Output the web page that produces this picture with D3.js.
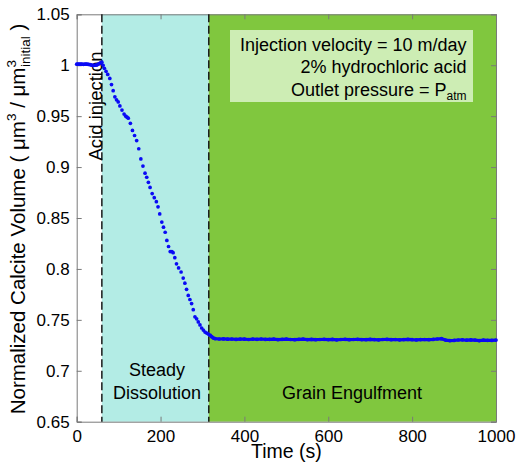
<!DOCTYPE html>
<html><head><meta charset="utf-8">
<script src="https://cdn.jsdelivr.net/npm/d3@7"></script>
<style>
html,body{margin:0;padding:0;background:#fff;}
text{font-family:"Liberation Sans",Arial,sans-serif;fill:#000;}
</style></head>
<body><svg id="chart" width="517" height="464"></svg>
<script>
// ---------- data ----------
const xTicks = [0, 200, 400, 600, 800, 1000];
const yTicks = [0.65, 0.7, 0.75, 0.8, 0.85, 0.9, 0.95, 1, 1.05];
const yTickLabels = ["0.65", "0.7", "0.75", "0.8", "0.85", "0.9", "0.95", "1", "1.05"];
const injectionTime = 60;
const engulfTime = 315;
const regionNames = ["Steady", "Dissolution", "Grain Engulfment", "Acid injection"];
const noteLines = ["Injection velocity = 10 m/day", "2% hydrochloric acid", "Outlet pressure = P"];

const preTime = [0, 4, 8, 12, 16, 20, 24, 28, 32, 36, 40, 44, 48, 52, 56, 60];
const preVol  = [1.0010, 1.0012, 1.0010, 1.0011, 1.0009, 1.0011, 1.0010, 1.0008, 1.0006, 1.0001, 0.9998, 1.0000, 1.0003, 1.0012, 1.0022, 1.0030];

const dissTime = [63, 66, 70, 74, 79, 83, 87, 91, 95, 99, 103, 108, 113, 117, 120, 123, 128, 133, 138, 143, 148, 153, 158, 163, 167, 171, 175, 180, 185, 190, 194, 198, 203, 207, 211, 215, 219, 223, 227, 230, 234, 238, 243, 249, 254, 258, 262, 266, 270, 274, 278, 282, 286, 290, 294, 298, 302, 306, 310, 314];
const dissVol  = [1.000, 0.997, 0.994, 0.991, 0.987, 0.981, 0.975, 0.969, 0.966, 0.964, 0.960, 0.956, 0.952, 0.950, 0.949, 0.948, 0.943, 0.936, 0.931, 0.926, 0.918, 0.908, 0.901, 0.894, 0.890, 0.885, 0.880, 0.874, 0.870, 0.866, 0.861, 0.854, 0.846, 0.841, 0.836, 0.828, 0.822, 0.817, 0.817, 0.816, 0.811, 0.805, 0.801, 0.797, 0.791, 0.786, 0.780, 0.774, 0.770, 0.766, 0.760, 0.753, 0.751, 0.748, 0.745, 0.742, 0.740, 0.738, 0.737, 0.736];

const plateauTime = [318, 322, 326, 330, 340, 350, 360, 370, 380, 390, 400, 410, 420, 430, 440, 450, 460, 470, 480, 490, 500, 510, 520, 530, 540, 550, 560, 570, 580, 590, 600, 610, 620, 630, 640, 650, 660, 670, 680, 690, 700, 710, 720, 730, 740, 750, 760, 770, 780, 790, 800, 810, 820, 830, 840, 850, 860, 870, 880, 890, 900, 910, 920, 930, 940, 950, 960, 970, 980, 990, 1000];
const plateauVol  = [0.7350, 0.7335, 0.7322, 0.7316, 0.7312, 0.7313, 0.7310, 0.7312, 0.7308, 0.7311, 0.7310, 0.7307, 0.7311, 0.7309, 0.7312, 0.7308, 0.7309, 0.7311, 0.7306, 0.7309, 0.7310, 0.7307, 0.7305, 0.7309, 0.7310, 0.7306, 0.7308, 0.7305, 0.7307, 0.7309, 0.7306, 0.7308, 0.7304, 0.7307, 0.7309, 0.7305, 0.7307, 0.7309, 0.7306, 0.7305, 0.7308, 0.7306, 0.7304, 0.7307, 0.7308, 0.7305, 0.7307, 0.7304, 0.7306, 0.7308, 0.7305, 0.7303, 0.7306, 0.7307, 0.7305, 0.7308, 0.7312, 0.7315, 0.7301, 0.7297, 0.7298, 0.7302, 0.7304, 0.7300, 0.7303, 0.7301, 0.7297, 0.7300, 0.7299, 0.7298, 0.7301];

// ---------- layout ----------
const svg = d3.select("#chart");
const L = 76.7, T = 14.3, R = 496, B = 421.7;
const x = d3.scaleLinear().domain([0, 1000]).range([L, R]);
const y = d3.scaleLinear().domain([0.65, 1.05]).range([B, T]);

const blue = "#0a0af5", frameCol = "#7a7a7a";

// background regions
svg.append("rect").attr("x", x(injectionTime)).attr("y", T)
  .attr("width", x(engulfTime) - x(injectionTime)).attr("height", B - T).attr("fill", "#b3ece5");
svg.append("rect").attr("x", x(engulfTime)).attr("y", T)
  .attr("width", x(1000) - x(engulfTime)).attr("height", B - T).attr("fill", "#80c73e");

// annotation box
svg.append("rect").attr("x", 230).attr("y", 30).attr("width", 243).attr("height", 72).attr("fill", "#cdedb4");
const nt = svg.append("g").attr("font-size", 18).attr("text-anchor", "end");
noteLines.forEach((s, i) => {
  const t = nt.append("text").attr("x", 466.5).attr("y", 50.5 + i * 22.8);
  t.append("tspan").text(s);
  if (i === 2) t.append("tspan").attr("font-size", 12).attr("dy", 4).text("atm");
});

// axes (inward ticks, boxed)
const tickLen = 5;
svg.append("g").attr("transform", `translate(0,${B})`)
  .call(d3.axisBottom(x).tickValues(xTicks).tickSize(-tickLen).tickPadding(8).tickFormat(d3.format("d")))
  .call(g => { g.select(".domain").attr("stroke", frameCol);
    g.selectAll(".tick line").attr("stroke", frameCol);
    g.selectAll("text").attr("font-size", 17).attr("fill", "#000").attr("font-family", "Liberation Sans, Arial, sans-serif"); });
svg.append("g").attr("transform", `translate(0,${T})`)
  .call(d3.axisTop(x).tickValues(xTicks).tickSize(-tickLen).tickFormat(""))
  .call(g => { g.select(".domain").attr("stroke", frameCol); g.selectAll(".tick line").attr("stroke", frameCol); });
svg.append("g").attr("transform", `translate(${L},0)`)
  .call(d3.axisLeft(y).tickValues(yTicks).tickSize(-tickLen).tickPadding(7).tickFormat((d, i) => yTickLabels[i]))
  .call(g => { g.select(".domain").attr("stroke", frameCol);
    g.selectAll(".tick line").attr("stroke", frameCol);
    g.selectAll("text").attr("font-size", 17).attr("fill", "#000").attr("font-family", "Liberation Sans, Arial, sans-serif"); });
svg.append("g").attr("transform", `translate(${R},0)`)
  .call(d3.axisRight(y).tickValues(yTicks).tickSize(-tickLen).tickFormat(""))
  .call(g => { g.select(".domain").attr("stroke", frameCol); g.selectAll(".tick line").attr("stroke", frameCol); });

// dashed lines
[injectionTime, engulfTime].forEach(t => {
  svg.append("line").attr("x1", x(t)).attr("x2", x(t)).attr("y1", T).attr("y2", B)
    .attr("stroke", "#1a1a1a").attr("stroke-width", 1.5).attr("stroke-dasharray", "8,3.5");
});

// region labels
svg.append("text").attr("x", 157).attr("y", 376).attr("font-size", 18).attr("text-anchor", "middle").text(regionNames[0]);
svg.append("text").attr("x", 157).attr("y", 399).attr("font-size", 18).attr("text-anchor", "middle").text(regionNames[1]);
svg.append("text").attr("x", 352).attr("y", 399).attr("font-size", 18).attr("text-anchor", "middle").text(regionNames[2]);
svg.append("text").attr("transform", `translate(102,106) rotate(-90)`).attr("font-size", 18.5)
  .attr("text-anchor", "middle").text(regionNames[3]);

// data
const pre = preTime.map((t, i) => ({t, v: preVol[i]}));
const diss = dissTime.map((t, i) => ({t, v: dissVol[i]}));
const plat = plateauTime.map((t, i) => ({t, v: plateauVol[i]}));
const line = d3.line().x(d => x(d.t)).y(d => y(d.v));
[pre, plat].forEach(arr => svg.append("path").datum(arr).attr("d", line)
  .attr("fill", "none").attr("stroke", blue).attr("stroke-width", 3.2));
svg.append("g").selectAll("circle").data(pre.concat(diss, plat)).join("circle")
  .attr("cx", d => x(d.t)).attr("cy", d => y(d.v)).attr("r", 1.85).attr("fill", blue);

// axis titles
svg.append("text").attr("x", (L + R) / 2).attr("y", 458).attr("font-size", 19.5).attr("text-anchor", "middle").text("Time (s)");
const yl = svg.append("text").attr("transform", `translate(25,219) rotate(-90)`).attr("font-size", 20.5).attr("text-anchor", "middle");
yl.append("tspan").text("Normalized Calcite Volume ( μm");
yl.append("tspan").attr("font-size", 13.5).attr("dy", -9).text("3");
yl.append("tspan").attr("dy", 9).text(" / μm");
yl.append("tspan").attr("font-size", 13.5).attr("dy", -9).text("3");
yl.append("tspan").attr("font-size", 13.5).attr("dx", -7).attr("dy", 14).text("initial");
yl.append("tspan").attr("dy", -5).text(" )");
</script></body></html>
